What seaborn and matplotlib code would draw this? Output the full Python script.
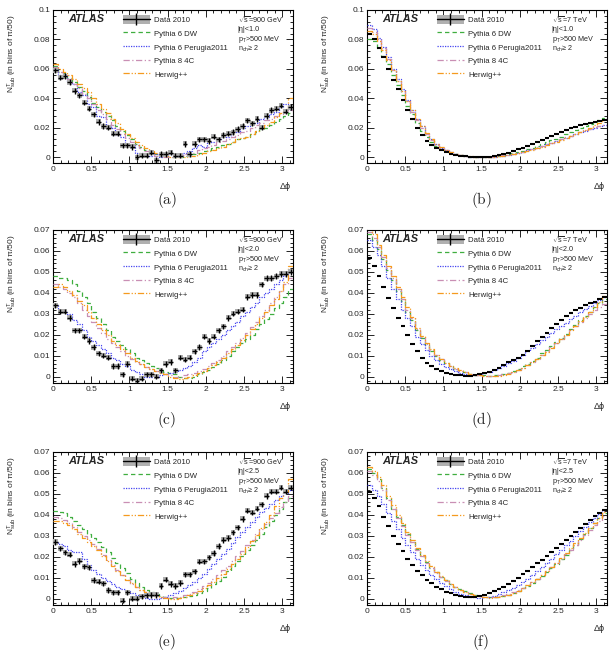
import numpy as np
import pandas as pd
import matplotlib
matplotlib.use("Agg")
import matplotlib.pyplot as plt
import seaborn as sns
from matplotlib.lines import Line2D
from matplotlib.patches import Patch
from matplotlib.legend_handler import HandlerTuple
from matplotlib.ticker import AutoMinorLocator, FuncFormatter, MultipleLocator

# all values in units of 1e-3, 50 bins of pi/50 in delta phi
# (a) 900 GeV, |eta|<1.0
data_a = [59, 54, 55, 51, 45, 42, 37, 33, 29, 24, 21, 20, 16, 16, 8, 8, 7, 0, 1, 1,
          3, -2, 2, 2, 3, 1, 1, 9, 2, 9, 12, 12, 11, 14, 12, 15, 16, 17, 19, 21,
          25, 23, 26, 20, 28, 32, 33, 35, 31, 34]
dw_a = [62, 58, 57, 54, 51, 48, 45, 41, 37, 34, 31, 28, 25, 21, 18, 15, 12, 9, 7, 5,
        3, 2, 1, 1, 0, 0, 0, 1, 1, 2, 3, 4, 5, 6, 7, 8, 9, 10, 12, 13,
        14, 16, 17, 19, 20, 22, 24, 26, 28, 30]
p11_a = [60, 56, 56, 51, 50, 44, 42, 36, 34, 28, 27, 22, 20, 15, 14, 9, 8, 3, 3, 2,
         1, 2, 0, 1, 2, 2, 1, 3, 4, 6, 8, 7, 10, 10, 12, 14, 14, 17, 17, 20,
         21, 23, 23, 26, 27, 29, 31, 34, 36, 33]
p8_a = [61, 58, 56, 53, 50, 47, 43, 40, 36, 32, 29, 26, 22, 19, 16, 13, 10, 8, 6, 4,
        2, 1, 1, 0, 0, 1, 1, 2, 3, 3, 5, 6, 7, 8, 10, 11, 12, 14, 15, 17,
        18, 20, 22, 23, 25, 26, 28, 29, 31, 32]
hw_a = [63, 60, 58, 56, 53, 50, 47, 44, 40, 36, 33, 30, 26, 23, 19, 16, 13, 10, 8, 6,
        4, 3, 2, 1, 0, 0, 0, 0, 1, 1, 2, 3, 4, 5, 6, 7, 9, 10, 12, 13,
        14, 16, 18, 20, 22, 24, 27, 30, 33, 40]

# (b) 7 TeV, |eta|<1.0
data_b = [84, 80, 74, 68, 60, 52.5, 46, 39, 32, 26, 20, 15, 11, 8, 6, 4.5, 3.3, 2.3, 1.6, 1.0,
          0.6, 0.3, 0.1, 0, 0.1, 0.4, 0.9, 1.5, 2.2, 3.0, 4.0, 5.2, 6.4, 7.6, 8.9, 10.2, 11.5, 12.8, 14.2, 15.6,
          17, 18.3, 19.5, 20.6, 21.6, 22.5, 23.3, 24, 24.6, 25]
dw_b = [80, 79, 74, 69, 63, 56, 49, 42, 35, 29, 23, 18, 14, 10.5, 7.8, 5.7, 4.2, 3, 2, 1.3,
        0.8, 0.4, 0.2, 0.1, 0, 0.2, 0.5, 0.9, 1.4, 2, 2.7, 3.5, 4.4, 5.4, 6.5, 7.6, 8.8, 10, 11.3, 12.6,
        14, 15.4, 16.8, 18.2, 19.6, 21, 22.4, 23.8, 25.2, 26.6]
p11_b = [90, 87, 81, 75, 68, 60, 53, 46, 39, 32, 26, 21, 16, 12, 9, 6.5, 4.7, 3.3, 2.2, 1.4,
         0.8, 0.4, 0.1, 0, 0, 0.1, 0.3, 0.6, 1, 1.5, 2.1, 2.8, 3.6, 4.5, 5.4, 6.4, 7.5, 8.6, 9.7, 10.9,
         12.1, 13.3, 14.5, 15.7, 16.8, 17.9, 19, 20, 21, 21.5]
p8_b = [88, 85, 80, 74, 67, 59, 52, 45, 38, 31, 25, 20, 15.5, 11.5, 8.5, 6.2, 4.5, 3.2, 2.1, 1.3,
        0.8, 0.4, 0.1, 0, 0, 0.2, 0.4, 0.7, 1.1, 1.6, 2.2, 2.9, 3.7, 4.6, 5.6, 6.6, 7.7, 8.8, 9.9, 11,
        12.2, 13.4, 14.6, 15.8, 17, 18.1, 19.2, 20.2, 21.2, 22]
hw_b = [86, 84, 79, 73, 66, 59, 52, 45, 38, 32, 26, 21, 16.5, 12.5, 9.2, 6.7, 4.8, 3.4, 2.3, 1.5,
        0.9, 0.5, 0.2, 0, 0, 0.1, 0.3, 0.6, 1, 1.4, 2, 2.6, 3.3, 4.1, 5, 6, 7.1, 8.2, 9.4, 10.6,
        11.9, 13.2, 14.5, 15.9, 17.3, 18.7, 20.1, 21.6, 23.4, 25.5]

# (c) 900 GeV, |eta|<2.0
data_c = [34, 31, 31, 28, 22, 22, 19, 17, 14, 11, 10, 9, 5, 5, 1, 6, -1, -2, -1, 1,
          1, 0, 3, 6, 7, 3, 9, 8, 9, 12, 14, 19, 17, 19, 22, 24, 28, 30, 31, 32,
          38, 39, 39, 44, 47, 47, 48, 49, 49, 50]
dw_c = [48, 47, 47, 46, 44, 41, 38, 35, 31, 28, 25, 22, 19, 17, 15, 13, 11, 9, 8, 6.5,
        5, 4, 3, 2, 1.5, 1, 0, -0.5, -0.5, 0, 1, 2, 3, 4.5, 6, 8, 10, 12, 14, 16,
        18, 20, 22.5, 25, 27.5, 30, 32.5, 35, 38, 42]
p11_c = [34, 32, 31, 30, 27, 25, 22, 19, 17, 15, 13, 11, 9, 8, 6, 5, 3, 2, 1, 0,
         0, 0, 0.5, 1, 1.5, 2, 3, 4, 5, 7, 9, 12, 14, 16, 18, 20, 22, 24, 26, 29,
         31, 33, 35, 38, 40, 42, 44, 46, 48, 50]
p8_c = [44, 43, 42, 40, 38, 35, 32, 29, 26, 23, 21, 18, 16, 14, 12, 10, 8.5, 7, 6, 4.5,
        3.5, 2.5, 2, 1, 0.5, 0, 0, 0.5, 1, 1.5, 2.5, 3.5, 5, 6.5, 8, 10, 12, 14, 16, 18.5,
        21, 23.5, 26, 29, 32, 35, 38, 41, 44, 47]
hw_c = [43, 44, 43, 41, 39, 36, 34, 31, 28, 25, 22, 20, 17, 15, 13, 11, 9, 7.5, 6, 4.5,
        3.5, 2.5, 1.5, 1, 0, -0.5, -1, -0.5, 0, 0.5, 1.5, 2.5, 4, 5.5, 7, 9, 11, 13, 15, 17.5,
        20, 22.5, 25, 28, 31, 34, 37, 41, 45, 53]

# (d) 7 TeV, |eta|<2.0
data_d = [56.5, 53, 48, 43, 37.5, 32.5, 28, 24, 20, 15.5, 12, 9, 6.5, 5, 3.7, 2.6, 1.8, 1.2, 0.8, 0.5,
          0.3, 0.3, 0.5, 1, 1.5, 2.2, 3.2, 4.3, 5.5, 6.7, 7.8, 9, 10.5, 12, 14.5, 17, 19, 21, 23, 25,
          27, 29, 30.5, 31.6, 32.8, 34, 35, 35.8, 37, 38]
dw_d = [68, 65, 61, 56, 51, 46, 41, 36, 31, 27, 22, 18.5, 15, 12, 9.8, 8, 6.4, 5, 3.8, 2.8,
        2, 1.4, 0.9, 0.6, 0.5, 0.4, 0.5, 0.8, 1.2, 1.8, 2.6, 3.6, 4.8, 6.1, 7.5, 9, 11, 12.8, 14.6, 16.5,
        18.5, 20.5, 22.6, 24.7, 26.8, 28.9, 31, 33, 35, 37]
p11_d = [65, 62, 58, 53, 47, 42, 37, 32, 28, 24, 19, 15.5, 12.5, 10, 8, 6.2, 4.7, 3.5, 2.5, 1.8,
         1.2, 0.7, 0.6, 0.9, 1.5, 2.2, 3, 4, 5.1, 6.3, 7.6, 9, 10.5, 12.1, 13.8, 15.5, 17.3, 19.1, 21, 22.6,
         24.2, 25.8, 27.4, 29, 30.6, 32.1, 33.6, 35, 36.5, 38]
p8_d = [69, 66, 62, 57, 52, 47, 42, 37, 32, 28, 22.5, 19, 15.5, 12.6, 10.2, 8.2, 6.5, 5, 3.8, 2.8,
        2, 1.4, 0.9, 0.5, 0.3, 0.2, 0.3, 0.6, 1, 1.6, 2.3, 3.2, 4.3, 5.6, 7, 8.6, 10.3, 12.1, 14, 16,
        18, 20, 22, 24, 26, 28, 30, 31.7, 33.3, 34.8]
hw_d = [71, 68, 63, 58, 53, 48, 43, 38, 33, 28.5, 23, 19.5, 16, 13, 10.5, 8.4, 6.6, 5.1, 3.9, 2.9,
        2.1, 1.4, 0.9, 0.6, 0.4, 0.2, 0.2, 0.4, 0.8, 1.3, 2, 2.9, 4, 5.3, 6.8, 8.4, 10.1, 11.9, 13.8, 15.8,
        17.8, 19.9, 22, 24.2, 26.4, 28.6, 30.8, 33, 35.5, 38.5]

# (e) 900 GeV, |eta|<2.5
data_e = [27, 24, 22, 21, 16.5, 18, 15.3, 14.9, 8.8, 8.1, 7.3, 4, 3, 3, -1, 3, 0, 0, 1, 1.5,
          1.7, 1.7, 6, 9, 7, 6, 7.5, 11.6, 11.6, 13, 17.6, 17.7, 19.7, 21.7, 25, 28, 29, 31.6, 34, 38,
          42, 41, 43, 45, 49, 51, 51, 53, 51, 53]
dw_e = [42, 41.5, 41, 39, 37, 35, 33, 31, 29, 27, 24.5, 22, 19.5, 17, 14.5, 12, 9.5, 7.5, 5.5, 4,
        3, 2, 1.3, 0.8, 0.4, 0.2, 0.2, 0.5, 1, 1.7, 2.6, 3.8, 5.2, 6.8, 8.6, 10.5, 13, 15.5, 18, 20.5,
        23, 25.5, 28, 31, 34, 37, 40, 43, 46, 48]
p11_e = [27, 26, 25, 23, 22, 22, 19, 16, 13.5, 11.5, 9.8, 8.3, 7, 5.7, 4.5, 3.4, 2.4, 1.5, 0.8, 0.3,
         0, 0, 0.3, 0.8, 1.5, 2.4, 3.5, 4.8, 6.3, 8, 9.8, 11.8, 14, 16.3, 18.7, 21.2, 23.8, 26.5, 29.2, 31.8,
         34.3, 36.7, 39, 41.2, 43.3, 45.3, 47.2, 49, 50.5, 52]
p8_e = [39, 38.5, 37.5, 36, 34, 32, 30, 28, 26, 23.5, 21, 18.5, 16, 13.5, 11, 9, 7, 5.4, 4, 2.9,
        2, 1.3, 0.8, 0.5, 0.4, 0.5, 0.9, 1.5, 2.3, 3.3, 4.5, 5.9, 7.5, 9.3, 11.3, 13.4, 15.6, 17.9, 20.3, 22.8,
        25.4, 28, 30.6, 33.2, 35.8, 38.4, 41, 43.6, 46.2, 49]
hw_e = [37, 37, 36, 35, 33, 31, 29, 27, 25, 23, 20.5, 18, 15.5, 13, 11, 9, 7.2, 5.6, 4.2, 3,
        2, 1.3, 0.7, 0.3, 0, 0, 0.3, 0.8, 1.5, 2.4, 3.5, 4.8, 6.3, 8, 9.8, 11.8, 14, 16.3, 18.7, 21.2,
        24.5, 27.5, 30.5, 33.5, 36.5, 40, 44, 48, 51, 57]

# (f) 7 TeV, |eta|<2.5
data_f = [51, 48, 44, 39, 34.5, 30, 26, 22.5, 19, 16, 13.3, 11, 9, 7.2, 5.7, 4.4, 3.3, 2.4, 1.7, 1.1,
          0.7, 0.6, 0.8, 1.2, 1.8, 2.5, 3.4, 4.4, 5.5, 6.7, 8.5, 10, 11.6, 13.3, 15, 16.8, 18.6, 20.5, 22.4, 24.3,
          26.2, 28.1, 30, 31.8, 33.6, 35.5, 37.5, 39.3, 41, 42.5]
dw_f = [62, 60, 57, 53, 48, 43, 39, 35, 31, 27, 23.5, 20.3, 17.4, 14.8, 12.5, 10.5, 8.7, 7.1, 5.7, 4.5,
        3.4, 2.5, 1.8, 1.2, 0.8, 0.6, 0.6, 0.8, 1.2, 1.8, 2.6, 3.6, 4.8, 6.1, 7.6, 9.2, 10.9, 12.7, 14.6, 16.6,
        18.7, 20.9, 23.2, 25.5, 28.5, 31, 33.5, 36, 38.5, 41]
p11_f = [54, 52, 49, 45, 41, 37, 33, 29, 25.5, 22, 19, 16, 13.5, 11.2, 9.2, 7.4, 5.8, 4.5, 3.3, 2.3,
         1.5, 0.9, 0.5, 0.4, 0.5, 0.8, 1.3, 2, 2.9, 3.9, 5.1, 6.4, 7.9, 9.5, 11.2, 13, 14.9, 16.9, 19, 21.1,
         23.3, 25.5, 27.7, 29.9, 32.1, 34.3, 36.5, 38.6, 40.6, 42.5]
p8_f = [61, 59, 56, 52, 47, 43, 38.5, 34.5, 30.5, 26.8, 23.3, 20.1, 17.2, 14.6, 12.3, 10.3, 8.5, 6.9, 5.5, 4.3,
        3.2, 2.3, 1.6, 1.1, 0.7, 0.6, 0.7, 1, 1.5, 2.1, 2.9, 3.9, 5.1, 6.4, 7.9, 9.5, 11.2, 13, 14.9, 16.9,
        19, 21.2, 23.4, 25.7, 28, 30.3, 32.6, 34.9, 37.2, 39.5]
hw_f = [63, 61, 58, 54, 49, 44.5, 40, 36, 32, 28, 24.3, 21, 18, 15.3, 12.9, 10.7, 8.8, 7.1, 5.6, 4.3,
        3.2, 2.3, 1.5, 1, 0.6, 0.4, 0.5, 0.8, 1.3, 1.9, 2.7, 3.7, 4.9, 6.3, 7.8, 9.4, 11.2, 13.1, 15.1, 17.2,
        19.4, 21.7, 24, 26.4, 28.8, 31.2, 33.6, 36.1, 38.6, 41.2]

mc_labels = ["Pythia 6 DW", "Pythia 6 Perugia2011", "Pythia 8 4C", "Herwig++"]
mc_colors = ["#3fae3f", "#4646f0", "#c98fb4", "#f59a1e"]
mc_dashes = [(3.5, 2.5), (1, 1), (5, 2, 1, 2), (5, 1.5, 1, 1.5, 1, 1.5)]

panels = [
    ("a", "900 GeV", "1.0", data_a, [dw_a, p11_a, p8_a, hw_a], 0.1, 0.02),
    ("b", "7 TeV", "1.0", data_b, [dw_b, p11_b, p8_b, hw_b], 0.1, 0.02),
    ("c", "900 GeV", "2.0", data_c, [dw_c, p11_c, p8_c, hw_c], 0.07, 0.01),
    ("d", "7 TeV", "2.0", data_d, [dw_d, p11_d, p8_d, hw_d], 0.07, 0.01),
    ("e", "900 GeV", "2.5", data_e, [dw_e, p11_e, p8_e, hw_e], 0.07, 0.01),
    ("f", "7 TeV", "2.5", data_f, [dw_f, p11_f, p8_f, hw_f], 0.07, 0.01),
]

edges = np.linspace(0, np.pi, 51)
centres = 0.5 * (edges[1:] + edges[:-1])
bw = edges[1] - edges[0]

sns.set_theme(style="ticks")
plt.rcParams["font.family"] = ["Liberation Sans", "DejaVu Sans"]
plt.rcParams["mathtext.fontset"] = "custom"
plt.rcParams["mathtext.rm"] = "Liberation Sans"
plt.rcParams["mathtext.it"] = "Liberation Sans:italic"
plt.rcParams["xtick.direction"] = "in"
plt.rcParams["ytick.direction"] = "in"

fig = plt.figure(figsize=(6.15, 6.54), dpi=100)
lefts = [53 / 615, 367 / 615]
bottoms = [1 - 163 / 654, 1 - 383 / 654, 1 - 605 / 654]
w, h = 240 / 615, 153 / 654

for i, (tag, energy, eta, data, mcs, ytop, ymajor) in enumerate(panels):
    ax = fig.add_axes([lefts[i % 2], bottoms[i // 2], w, h])
    low = energy.startswith("900")
    vals = np.array(data) * 1e-3

    for vals_mc, c, lab, ds in zip(mcs, mc_colors, mc_labels, mc_dashes):
        df = pd.DataFrame({"dphi": centres, "n": np.array(vals_mc) * 1e-3})
        sns.histplot(data=df, x="dphi", weights="n", bins=50, binrange=(0, np.pi),
                     element="step", fill=False, color=c, linewidth=0.9,
                     dashes=ds, ax=ax, zorder=3)

    if low:
        sys_err, stat_err = 0.0012 * ytop / 0.07, 0.0013 * ytop / 0.07
        ax.bar(centres, 2 * sys_err, bottom=vals - sys_err, width=bw,
               color="#b0b0b0", linewidth=0, zorder=4)
        ax.errorbar(centres, vals, xerr=bw / 2, yerr=stat_err, fmt="none",
                    ecolor="black", elinewidth=1.0, capsize=0, zorder=5)
    else:
        ax.bar(centres, 0.0006, bottom=vals - 0.0003, width=bw,
               color="#b0b0b0", linewidth=0, zorder=4)
        ax.errorbar(centres, vals, xerr=bw / 2, yerr=0.0002, fmt="none",
                    ecolor="black", elinewidth=1.5, capsize=0, zorder=5)

    ax.set_xlim(0, np.pi)
    ax.set_ylim(-0.004 if ytop == 0.1 else -0.0031, ytop)
    ax.set_xlabel("")
    ax.set_ylabel("")
    ax.xaxis.set_major_locator(MultipleLocator(0.5))
    ax.yaxis.set_major_locator(MultipleLocator(ymajor))
    ax.xaxis.set_minor_locator(AutoMinorLocator(5))
    ax.yaxis.set_minor_locator(AutoMinorLocator(5))
    ax.yaxis.set_major_formatter(FuncFormatter(lambda v, p: "%g" % round(v, 4)))
    ax.xaxis.set_major_formatter(FuncFormatter(lambda v, p: "%g" % round(v, 2)))
    ax.tick_params(which="both", top=True, right=True, labelsize=6, pad=2, width=0.6, color="black")
    ax.tick_params(which="major", length=5)
    ax.tick_params(which="minor", length=2.5)
    for s in ax.spines.values():
        s.set_linewidth(0.8)
        s.set_color("black")

    ax.text(-0.17, 0.97, r"N$^{\mathrm{T}}_{\mathrm{sub}}$ (in bins of π/50)", rotation=90,
            ha="center", va="top", fontsize=6, transform=ax.transAxes)
    ax.text(0.99, -0.155, "Δϕ", ha="right", va="center", fontsize=6.5, transform=ax.transAxes)
    ax.text(0.475, -0.24, "$\\mathrm{(%s)}$" % tag, ha="center", va="center", fontsize=11,
            math_fontfamily="cm", transform=ax.transAxes)

    ax.text(0.065, 0.94, "ATLAS", fontsize=8, fontweight="bold", fontstyle="italic",
            va="center", transform=ax.transAxes)
    info = [r"$\sqrt{\mathrm{s}}$=" + energy, "|η|<" + eta, r"p$_{\mathrm{T}}$>500 MeV",
            r"n$_{\mathrm{ch}}$≥ 2"]
    for k, line in enumerate(info):
        ax.text(0.77, 0.935 - k * 0.063, line, fontsize=5.2, va="center", transform=ax.transAxes)

    handles = [(Patch(facecolor="#b0b0b0", edgecolor="none"),
                Line2D([], [], color="black", lw=1, marker="|", markersize=8, markeredgewidth=1))]
    for c, ds in zip(mc_colors, mc_dashes):
        handles.append(Line2D([], [], color=c, lw=0.9, dashes=ds))
    ax.legend(handles, ["Data 2010"] + mc_labels, loc="upper left", bbox_to_anchor=(0.29, 0.965),
              frameon=False, fontsize=5.6, handlelength=3.5, handleheight=1.4, labelspacing=0.58,
              handletextpad=0.6, borderpad=0, borderaxespad=0, numpoints=1,
              handler_map={tuple: HandlerTuple(ndivide=1)})

fig.savefig("out.png", dpi=100)
